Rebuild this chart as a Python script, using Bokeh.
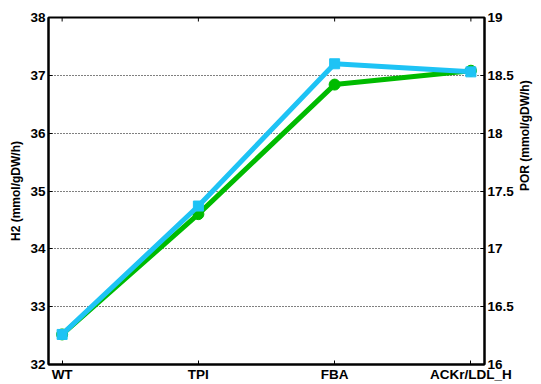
import math
from bokeh.plotting import figure
from bokeh.models import Range1d, LinearAxis, FixedTicker
from bokeh.embed import file_html
from bokeh.resources import INLINE

categories = ["WT", "TPI", "FBA", "ACKr/LDL_H"]
x_pos = [1, 2, 3, 4]
h2 = [32.52, 34.60, 36.84, 37.08]      # left axis (green)
por = [16.26, 17.37, 18.60, 18.53]     # right axis (blue)
left_ticks = [32, 33, 34, 35, 36, 37, 38]
right_ticks = [16, 16.5, 17, 17.5, 18, 18.5, 19]
y_top = 38

FONT = "Liberation Sans"
GREEN = "#00BB00"
BLUE = "#1EC3F5"

p = figure(width=541, height=384, output_backend="svg", toolbar_location=None,
           x_range=Range1d(0.9, 4.1), y_range=Range1d(32, 38),
           min_border_left=48, min_border_right=51, min_border_top=17, min_border_bottom=19)
p.extra_y_ranges = {"por": Range1d(16, 19)}

p.outline_line_color = "black"
p.outline_line_width = 2
p.background_fill_color = "white"
p.border_fill_color = "white"

p.xgrid.visible = False
p.ygrid.ticker = FixedTicker(ticks=left_ticks)
p.ygrid.grid_line_color = "black"
p.ygrid.grid_line_dash = "1 2"
p.ygrid.grid_line_width = 1
p.ygrid.grid_line_alpha = 1.0

def style_axis(ax):
    ax.axis_line_color = "black"
    ax.axis_line_width = 2
    ax.major_tick_in = 4
    ax.major_tick_out = 0
    ax.major_tick_line_color = "black"
    ax.major_tick_line_width = 1
    ax.minor_tick_line_color = None
    ax.major_label_text_font = FONT
    ax.major_label_text_font_style = "bold"
    ax.major_label_text_font_size = "13.5px"
    ax.major_label_text_color = "black"
    ax.major_label_standoff = 3
    ax.axis_label_text_font = FONT
    ax.axis_label_text_font_style = "bold"
    ax.axis_label_text_font_size = "12px"
    ax.axis_label_text_color = "black"

xa = p.xaxis[0]
xa.ticker = FixedTicker(ticks=x_pos)
xa.major_label_overrides = {x: c for x, c in zip(x_pos, categories)}
style_axis(xa)
xa.major_label_standoff = 2

ya = p.yaxis[0]
ya.ticker = FixedTicker(ticks=left_ticks)
ya.axis_label = "H2 (mmol/gDW/h)"
style_axis(ya)
ya.axis_label_standoff = 4

ra = LinearAxis(y_range_name="por", ticker=FixedTicker(ticks=right_ticks))
style_axis(ra)
ra.major_label_overrides = {16.5: "16.5", 17.5: "17.5", 18.5: "18.5", 16: "16", 17: "17", 18: "18", 19: "19"}
ra.axis_label = "POR (mmol/gDW/h)"
ra.axis_label_standoff = 8
if "axis_label_orientation" in ra.properties():
    ra.axis_label_orientation = math.pi / 2
p.add_layout(ra, "right")

# small inward tick marks along the top edge at the category positions
p.ray(x=x_pos, y=[y_top] * len(x_pos), length=4, length_units="screen",
      angle=-math.pi / 2, line_color="black", line_width=1)

p.line(x_pos, h2, line_color=GREEN, line_width=5)
p.scatter(x_pos, h2, marker="circle", size=11, fill_color=GREEN, line_color=GREEN)

p.line(x_pos, por, line_color=BLUE, line_width=5, y_range_name="por")
p.scatter(x_pos, por, marker="square", size=10, fill_color=BLUE, line_color=BLUE, y_range_name="por")

open("out.html", "w").write(file_html(p, INLINE))
